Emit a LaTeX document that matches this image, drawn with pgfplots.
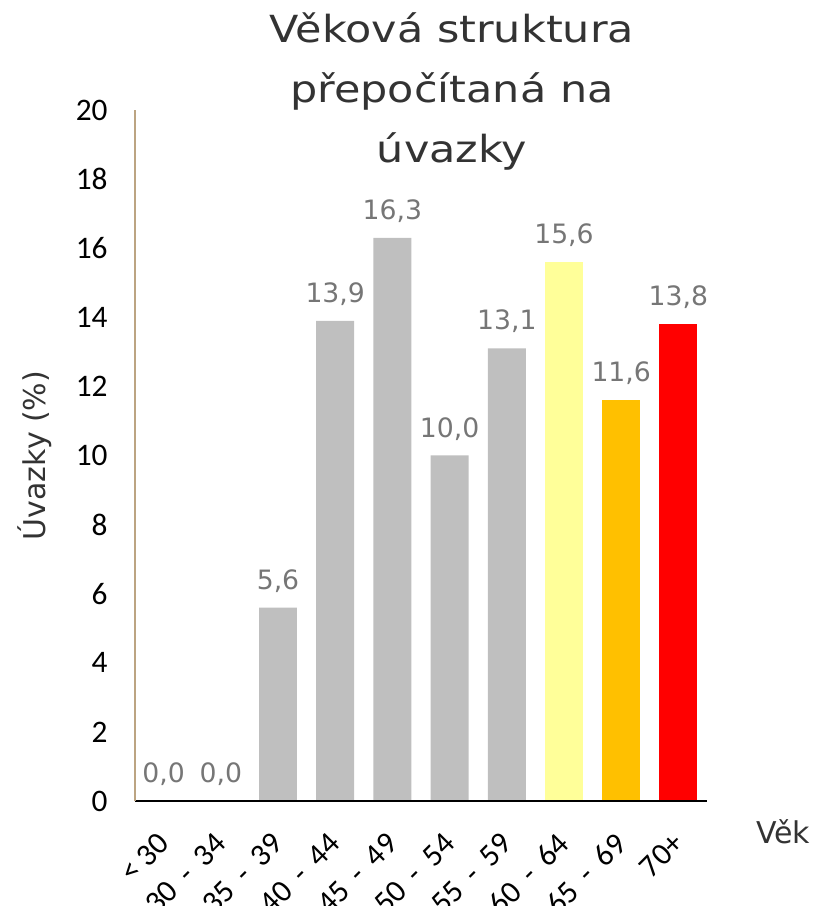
\documentclass[border=0pt]{standalone}
\usepackage{pgfplots}
\pgfplotsset{compat=1.18}
\usepackage{fontspec}
\setmainfont{DejaVu Sans}
\newfontfamily\calib{Carlito}
\newfontfamily\titlefont[FakeStretch=1.15]{DejaVu Sans}
\newcommand{\rng}[2]{#1\hspace{0.42em}-\hspace{0.42em}#2}
\definecolor{barGray}{RGB}{191,191,191}
\definecolor{barYellow}{RGB}{255,255,153}
\definecolor{barOrange}{RGB}{255,192,0}
\definecolor{barRed}{RGB}{255,0,0}
\definecolor{lblGray}{RGB}{118,118,118}
\definecolor{axTan}{RGB}{188,164,130}
\definecolor{txtDark}{RGB}{51,51,51}
\begin{document}
\begin{tikzpicture}
\useasboundingbox (-101.25pt,-78.75pt) rectangle (508.5pt,600.75pt);
\begin{axis}[
  scale only axis, width=429pt, height=518.25pt,
  xmin=-0.5, xmax=9.5, ymin=0, ymax=20,
  ytick={0,2,...,20},
  xtick={0,...,9},
  xticklabels={{<\hspace{0.2em}30},{\rng{30}{34}},{\rng{35}{39}},{\rng{40}{44}},{\rng{45}{49}},{\rng{50}{54}},{\rng{55}{59}},{\rng{60}{64}},{\rng{65}{69}},{70+}},
  axis x line=bottom, axis y line=left,
  axis line style={-},
  x axis line style={-, black, line width=1.2pt},
  y axis line style={-, axTan, line width=0.9pt},
  major tick length=0pt,
  tick style={draw=none},
  /pgf/number format/assume math mode=true,
  yticklabel style={font=\calib\fontsize{23.5}{27}\selectfont, xshift=-17pt},
  xticklabel style={font=\calib\fontsize{23.5}{27}\selectfont, inner sep=0pt, xshift=0pt, yshift=-28pt, rotate=45, anchor=east},
  ybar, bar width=0.664, bar shift=0pt,
  axis on top,
  nodes near coords={\pgfmathprintnumber[fixed,fixed zerofill,precision=1,use comma,assume math mode=true]{\pgfplotspointmeta}},
  every node near coord/.append style={font=\fontsize{20}{23}\selectfont, color=lblGray, yshift=8pt},
  title={Věková struktura\\přepočítaná na\\úvazky},
  title style={at={(rel axis cs:0.554,1.130)}, anchor=north, inner sep=0pt, align=center, font=\titlefont\fontsize{28}{45}\selectfont, color=txtDark},
  ylabel={Úvazky (\%)},
  every axis y label/.style={at={(rel axis cs:-0.175,0.5)}, rotate=90, anchor=center, font=\fontsize{22.5}{26}\selectfont, color=txtDark},
  xlabel={Věk},
  every axis x label/.style={at={(rel axis cs:1.133,-0.045)}, anchor=center, font=\fontsize{22.5}{26}\selectfont, color=txtDark},
]
\addplot[fill=barGray, draw=none] coordinates {(0,0) (1,0) (2,5.6) (3,13.9) (4,16.3) (5,10.0) (6,13.1)};
\addplot[fill=barYellow, draw=none] coordinates {(7,15.6)};
\addplot[fill=barOrange, draw=none] coordinates {(8,11.6)};
\addplot[fill=barRed, draw=none] coordinates {(9,13.8)};
\end{axis}
\end{tikzpicture}
\end{document}
